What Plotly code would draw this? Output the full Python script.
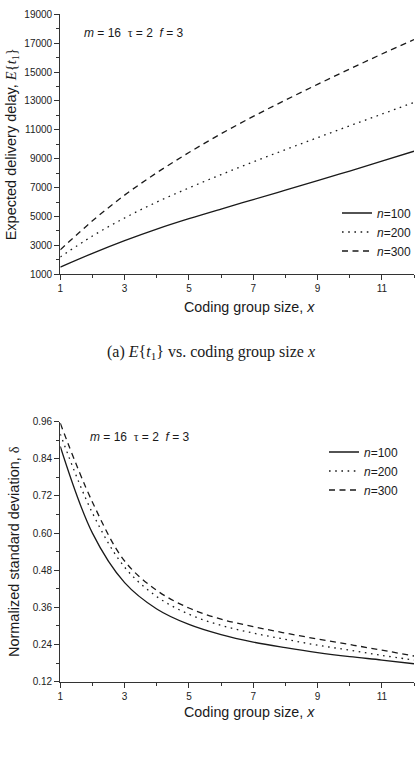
import plotly.graph_objects as go

# ---------------- data ----------------
x_vals = [1, 2, 3, 4, 5, 6, 7, 8, 9, 10, 11, 12]

# (a) expected delivery delay E{t1}
delay_n100 = [1500, 2450, 3330, 4130, 4850, 5520, 6170, 6820, 7480, 8150, 8830, 9520]
delay_n200 = [2200, 3650, 4900, 6000, 6980, 7900, 8780, 9630, 10460, 11280, 12090, 12900]
delay_n300 = [2700, 4700, 6480, 8030, 9430, 10730, 11930, 13060, 14150, 15210, 16250, 17250]

# (b) normalized standard deviation delta
std_n100 = [0.88, 0.60, 0.44, 0.355, 0.305, 0.272, 0.248, 0.230, 0.214, 0.201, 0.190, 0.178]
std_n200 = [0.92, 0.665, 0.49, 0.395, 0.338, 0.302, 0.277, 0.257, 0.238, 0.222, 0.205, 0.190]
std_n300 = [0.955, 0.70, 0.51, 0.415, 0.358, 0.322, 0.298, 0.277, 0.258, 0.240, 0.222, 0.203]

series_names = ["<i>n</i>=100", "<i>n</i>=200", "<i>n</i>=300"]
dash_styles = ["solid", "1.6px,4.6px", "6px,4.5px"]
x_title = "Coding group size, <i>x</i>"

W, H = 419, 759
SANS = "Liberation Sans"
SERIF = "Liberation Serif"
INK = "#1a1a1a"


def px_x(p):
    return p / W


def px_y(p):
    return 1 - p / H


fig = go.Figure()

for vals, name, dsh in zip([delay_n100, delay_n200, delay_n300], series_names, dash_styles):
    fig.add_trace(go.Scatter(
        x=x_vals, y=vals, mode="lines", name=name,
        line=dict(color=INK, width=1.3, dash=dsh, shape="spline", smoothing=1.0),
        xaxis="x", yaxis="y", legend="legend"))

for vals, name, dsh in zip([std_n100, std_n200, std_n300], series_names, dash_styles):
    fig.add_trace(go.Scatter(
        x=x_vals, y=vals, mode="lines", name=name,
        line=dict(color=INK, width=1.3, dash=dsh, shape="spline", smoothing=1.0),
        xaxis="x2", yaxis="y2", legend="legend2"))

axis_common = dict(
    showline=True, linecolor="#333", linewidth=1.3, mirror=False,
    ticks="outside", ticklen=5, tickwidth=1.2, tickcolor="#333",
    showgrid=False, zeroline=False, automargin=False,
    tickfont=dict(family=SANS, size=10, color="#222"),
)

x_dom = [px_x(60.3), px_x(414)]
title_font = dict(size=14.5, family=SANS, color=INK)

fig.update_layout(
    width=W, height=H,
    margin=dict(l=0, r=0, t=0, b=0),
    paper_bgcolor="white", plot_bgcolor="white",
    template="none",
    font=dict(family=SANS, color=INK),
    xaxis=dict(domain=x_dom, anchor="y", range=[1, 12], tick0=1, dtick=2,
               minor=dict(dtick=1, ticks="outside", ticklen=3, tickcolor="#333"),
               **axis_common),
    yaxis=dict(domain=[px_y(274.3), px_y(14.3)], anchor="x", range=[1000, 19000], tick0=1000, dtick=2000,
               tickformat="d",
               minor=dict(dtick=1000, ticks="outside", ticklen=3, tickcolor="#333"),
               title=dict(text="Expected delivery delay, <span style=\"font-family:'Liberation Serif'\"><i>E</i>{<i>t</i><sub>1</sub>}</span>",
                          font=title_font, standoff=4),
               **axis_common),
    xaxis2=dict(domain=x_dom, anchor="y2", range=[1, 12], tick0=1, dtick=2,
                minor=dict(dtick=1, ticks="outside", ticklen=3, tickcolor="#333"),
                **axis_common),
    yaxis2=dict(domain=[px_y(681.7), px_y(421.7)], anchor="x2", range=[0.12, 0.96], tick0=0.12, dtick=0.12,
                tickformat=".2f",
                minor=dict(dtick=0.06, ticks="outside", ticklen=3, tickcolor="#333"),
                title=dict(text="Normalized standard deviation, <span style=\"font-family:'Liberation Serif'\">δ</span>",
                           font=title_font, standoff=9),
                **axis_common),
    legend=dict(x=px_x(337), y=px_y(232), xanchor="left", yanchor="middle",
                bgcolor="rgba(0,0,0,0)", borderwidth=0, tracegroupgap=0,
                font=dict(family=SANS, size=12, color=INK)),
    legend2=dict(x=px_x(324), y=px_y(471), xanchor="left", yanchor="middle",
                 bgcolor="rgba(0,0,0,0)", borderwidth=0, tracegroupgap=0,
                 font=dict(family=SANS, size=12, color=INK)),
    showlegend=True,
)

# x-axis titles (offset to the right of the axis centre, as in the reference)
for ycen in (307, 712):
    fig.add_annotation(text=x_title, xref="paper", yref="paper", x=px_x(250), y=px_y(ycen),
                       xanchor="center", yanchor="middle", showarrow=False,
                       font=dict(size=14.3, family=SANS, color=INK))

param_text = "<i>m</i> = 16\u00a0\u00a0<span style=\"font-family:'Liberation Serif'\">τ</span> = 2\u00a0\u00a0<i>f</i> = 3"
fig.add_annotation(text=param_text, xref="paper", yref="paper", x=px_x(81.7), y=px_y(33),
                   xanchor="left", yanchor="middle", showarrow=False,
                   font=dict(family=SANS, size=12, color=INK))
fig.add_annotation(text=param_text, xref="paper", yref="paper", x=px_x(87.7), y=px_y(437),
                   xanchor="left", yanchor="middle", showarrow=False,
                   font=dict(family=SANS, size=12, color=INK))

fig.add_annotation(text="(a) <i>E</i>{<i>t</i><sub>1</sub>} vs. coding group size <i>x</i>",
                   xref="paper", yref="paper", x=px_x(211), y=px_y(352),
                   xanchor="center", yanchor="middle", showarrow=False,
                   font=dict(family=SERIF, size=16, color=INK))

fig.write_html("out.html")
